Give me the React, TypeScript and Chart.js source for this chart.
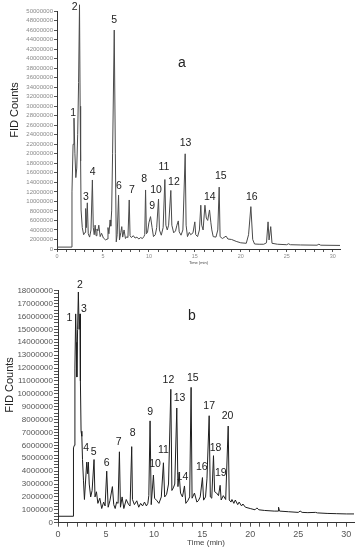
import React, { useEffect, useRef } from 'react';
import { Chart, registerables } from 'chart.js';

Chart.register(...registerables);

// ---------- Panel a ----------
const timesA = [
  0, 1.62, 1.63, 1.75, 1.85, 1.95, 2.05, 2.15, 2.25, 2.35, 2.45, 2.52, 2.57, 2.62, 2.75, 2.9,
  3.05, 3.12, 3.2, 3.3, 3.4, 3.55, 3.7, 3.85, 3.95, 4.05, 4.15, 4.25, 4.35, 4.45, 4.55, 4.7,
  4.85, 5.05, 5.3, 5.45, 5.55, 5.65, 5.78, 5.85, 5.95, 6.05, 6.23, 6.35, 6.45, 6.55, 6.7, 6.8,
  6.95, 7.05, 7.15, 7.3, 7.45, 7.6, 7.72, 7.86, 7.95, 8.1, 8.3, 8.5, 8.7, 8.9, 9.1, 9.3,
  9.45, 9.55, 9.64, 9.73, 9.85, 10.0, 10.18, 10.35, 10.5, 10.7, 10.85, 11.05, 11.15, 11.35, 11.55, 11.74,
  11.85, 12.0, 12.15, 12.39, 12.5, 12.7, 12.9, 13.05, 13.2, 13.3, 13.5, 13.7, 13.95, 14.05, 14.2, 14.4,
  14.55, 14.8, 15.0, 15.1, 15.3, 15.5, 15.65, 15.75, 15.9, 16.1, 16.25, 16.4, 16.6, 16.75, 16.85, 17.0,
  17.3, 17.5, 17.65, 17.75, 18.0, 18.4, 18.6, 19.0, 19.5, 20.0, 20.6, 20.85, 21.1, 21.3, 21.5, 22.0,
  22.5, 22.8, 22.97, 23.08, 23.26, 23.4, 24.0, 25.0, 25.2, 25.4, 26.5, 28.3, 28.5, 28.7, 30.8,
];
const countsA = [
  400000, 400000, 12000000, 22000000, 27500000, 20000000, 15000000, 17000000, 24000000, 35000000, 51300000, 30000000, 18500000, 8200000, 4500000, 3000000,
  3500000, 8500000, 4500000, 9700000, 3200000, 2500000, 4000000, 14500000, 4500000, 3000000, 5000000, 2800000, 4200000, 3800000, 5000000, 2600000,
  3300000, 2300000, 1900000, 2100000, 4500000, 3200000, 6100000, 4800000, 8000000, 20000000, 46000000, 20000000, 1500000, 3000000, 11300000, 1900000,
  3500000, 4700000, 2500000, 4000000, 2200000, 2600000, 2400000, 10300000, 2800000, 2400000, 2800000, 2300000, 2500000, 2100000, 2400000, 2200000,
  2600000, 3000000, 12400000, 3200000, 3500000, 5500000, 6800000, 4500000, 2600000, 3000000, 4500000, 10500000, 4000000, 2900000, 4500000, 14600000,
  5000000, 4000000, 5000000, 12300000, 5000000, 3400000, 3800000, 5000000, 5900000, 3600000, 2900000, 4000000, 20000000, 5000000, 2600000, 3500000,
  3000000, 3400000, 5700000, 3000000, 2600000, 4000000, 9200000, 5000000, 4000000, 9200000, 6500000, 6000000, 8200000, 5500000, 4000000, 2600000,
  2500000, 4000000, 13000000, 2600000, 2200000, 2700000, 2100000, 2000000, 1600000, 1300000, 1200000, 3000000, 8900000, 2000000, 1050000, 1000000,
  1000000, 1300000, 5700000, 1900000, 4700000, 1200000, 1000000, 900000, 1100000, 900000, 850000, 800000, 1000000, 800000, 750000,
];
const peakNamesA = ['1', '2', '3', '4', '5', '6', '7', '8', '9', '10', '11', '12', '13', '14', '15', '16'];
const peakLabelTimesA = [1.77, 1.92, 3.15, 3.88, 6.23, 6.74, 8.15, 9.49, 10.36, 10.78, 11.63, 12.72, 13.99, 16.63, 17.83, 21.2];
const peakLabelCountsA = [28600000, 50800000, 11000000, 16200000, 48000000, 13200000, 12300000, 14700000, 9000000, 12300000, 17300000, 14000000, 22200000, 10800000, 15300000, 10800000];
const yTicksA = [
  0, 2000000, 4000000, 6000000, 8000000, 10000000, 12000000, 14000000, 16000000, 18000000, 20000000, 22000000, 24000000,
  26000000, 28000000, 30000000, 32000000, 34000000, 36000000, 38000000, 40000000, 42000000, 44000000, 46000000, 48000000, 50000000,
];

// ---------- Panel b ----------
const timesB = [
  0, 1.6, 1.61, 1.7, 1.76, 1.84, 1.9, 1.96, 2.04, 2.12, 2.2, 2.29, 2.33, 2.4, 2.48, 2.55,
  2.65, 2.75, 2.85, 2.99, 3.08, 3.16, 3.25, 3.4, 3.55, 3.75, 3.85, 4.0, 4.15, 4.35, 4.55, 4.75,
  4.9, 5.07, 5.22, 5.4, 5.66, 5.8, 5.95, 6.1, 6.25, 6.39, 6.5, 6.67, 6.85, 7.1, 7.35, 7.5,
  7.67, 7.75, 7.95, 8.2, 8.4, 8.6, 8.8, 9.0, 9.2, 9.35, 9.45, 9.58, 9.7, 9.93, 10.05, 10.3,
  10.5, 10.75, 10.97, 11.1, 11.3, 11.5, 11.74, 11.85, 12.0, 12.15, 12.36, 12.48, 12.6, 12.75, 12.95, 13.16,
  13.3, 13.5, 13.7, 13.85, 13.95, 14.2, 14.45, 14.6, 14.8, 15.03, 15.15, 15.35, 15.5, 15.73, 15.85, 16.0,
  16.18, 16.3, 16.5, 16.7, 16.87, 16.98, 17.2, 17.45, 17.71, 17.82, 18.0, 18.1, 18.3, 18.45, 18.7, 18.85,
  19.1, 19.24, 19.5, 20.0, 20.5, 20.7, 20.9, 21.5, 22.5, 22.9, 22.95, 23.05, 24.0, 25.0, 25.2, 25.4,
  26.0, 26.8, 27.0, 28.0, 29.0, 30.0, 30.8,
];
const countsB = [
  500000, 500000, 5800000, 6000000, 12000000, 16200000, 14000000, 11300000, 15000000, 17900000, 15000000, 16200000, 11000000, 7100000, 6700000, 4900000,
  3300000, 1800000, 3000000, 4700000, 3800000, 4700000, 3000000, 2000000, 2500000, 4900000, 2000000, 2400000, 1500000, 1900000, 1100000, 1600000,
  1300000, 4000000, 1200000, 1700000, 2800000, 1400000, 1100000, 1600000, 1500000, 5500000, 1200000, 2000000, 1100000, 1800000, 1400000, 1300000,
  5900000, 1800000, 1400000, 1700000, 1200000, 1500000, 1300000, 1600000, 1300000, 1500000, 2100000, 7900000, 1400000, 3700000, 1900000, 1700000,
  1500000, 2000000, 4650000, 2000000, 2200000, 3000000, 10350000, 2500000, 2700000, 3000000, 8900000, 2800000, 3800000, 2300000, 2000000, 2850000,
  1500000, 1700000, 2000000, 10500000, 1900000, 2300000, 1600000, 1700000, 2000000, 3500000, 1750000, 2000000, 3400000, 8300000, 2000000, 1900000,
  5200000, 2400000, 2300000, 2100000, 2900000, 1760000, 2100000, 1800000, 7500000, 1760000, 1600000, 1800000, 1500000, 1760000, 1400000, 1600000,
  1300000, 1450000, 1200000, 1100000, 1000000, 1150000, 1000000, 950000, 900000, 900000, 1200000, 900000, 850000, 800000, 900000, 800000,
  780000, 800000, 760000, 720000, 700000, 680000, 680000,
];
const peakNamesB = ['1', '2', '3', '4', '5', '6', '7', '8', '9', '10', '11', '12', '13', '14', '15', '16', '17', '18', '19', '20'];
const peakLabelTimesB = [1.18, 2.29, 2.71, 2.92, 3.72, 5.07, 6.32, 7.78, 9.58, 10.1, 10.97, 11.49, 12.64, 12.95, 14.03, 14.97, 15.73, 16.39, 16.94, 17.64];
const peakLabelCountsB = [15900000, 18440000, 16560000, 5770000, 5500000, 4650000, 6240000, 6930000, 8600000, 4530000, 5640000, 11070000, 9650000, 3520000, 11200000, 4300000, 9050000, 5820000, 3830000, 8280000];
const yTicksB = [
  0, 1000000, 2000000, 3000000, 4000000, 5000000, 6000000, 7000000, 8000000, 9000000,
  10000000, 11000000, 12000000, 13000000, 14000000, 15000000, 16000000, 17000000, 18000000,
];

// ---------- shared ----------
const xTicks = [0, 5, 10, 15, 20, 25, 30];
const xTickLabels = ['0', '5', '10', '15', '20', '25', '30'];

const FONT = '"Liberation Sans", Arial, sans-serif';

type Panel = {
  times: number[];
  counts: number[];
  names: string[];
  lt: number[];
  lv: number[];
  yTicks: number[];
  yMinorStep: number;
  yMax: number;
  letter: string;
  letterX: number;
  letterY: number;
  titleX: number;
  titleY: number;
  padding: any;
  yWidth: number;
  xHeight: number;
  tickLen: number;
  yFont: number;
  xFont: number;
  xTitleFont: number;
  xTitlePad: number;
  xPad: number;
  lineColor: string;
  tickLabelColor: string;
};

const annot = (p: Panel) => ({
  id: 'annot',
  afterDatasetsDraw(chart: any) {
    const { ctx } = chart;
    const x = chart.scales.x;
    const y = chart.scales.y;
    ctx.save();
    ctx.fillStyle = '#222';
    ctx.textAlign = 'center';
    ctx.textBaseline = 'middle';
    ctx.font = `10.5px ${FONT}`;
    p.names.forEach((s, i) => {
      ctx.fillText(s, x.getPixelForValue(p.lt[i]), y.getPixelForValue(p.lv[i]));
    });
    ctx.font = `14px ${FONT}`;
    ctx.fillText(p.letter, p.letterX, p.letterY);
    ctx.font = `11px ${FONT}`;
    ctx.translate(p.titleX, p.titleY);
    ctx.rotate(-Math.PI / 2);
    ctx.fillText('FID Counts', 0, 0);
    ctx.restore();
  },
});

function buildConfig(p: Panel): any {
  return {
    type: 'line',
    data: {
      datasets: [
        {
          data: p.times.map((t, i) => ({ x: t, y: p.counts[i] })),
          borderColor: p.lineColor,
          borderWidth: 1,
          pointRadius: 0,
          tension: 0,
          fill: false,
          clip: false,
        },
      ],
    },
    options: {
      animation: false,
      responsive: false,
      events: [],
      layout: { padding: p.padding },
      plugins: { legend: { display: false }, tooltip: { enabled: false } },
      scales: {
        x: {
          type: 'linear',
          min: 0,
          max: 30.8,
          afterBuildTicks: (s: any) => {
            const t: any[] = [];
            for (let m = 0; m <= 30; m++) t.push({ value: m });
            s.ticks = t;
          },
          afterFit: (s: any) => {
            s.height = p.xHeight;
          },
          grid: { display: true, drawOnChartArea: false, drawTicks: true, tickLength: p.tickLen, color: '#555' },
          border: { display: true, color: '#333', width: 1 },
          ticks: {
            autoSkip: false,
            maxRotation: 0,
            minRotation: 0,
            padding: p.xPad,
            color: p.tickLabelColor,
            font: { size: p.xFont, family: FONT },
            callback: (v: number) => {
              const k = xTicks.indexOf(v);
              return k >= 0 ? xTickLabels[k] : '';
            },
          },
          title: {
            display: true,
            text: 'Time (min)',
            color: '#444',
            font: { size: p.xTitleFont, family: FONT },
            padding: { top: 0, bottom: p.xTitlePad },
          },
        },
        y: {
          type: 'linear',
          min: 0,
          max: p.yMax,
          afterBuildTicks: (s: any) => {
            if (p.yMinorStep > 0) {
              const t: any[] = [];
              for (let v = 0; v <= p.yMax + 1; v += p.yMinorStep) t.push({ value: v });
              s.ticks = t;
            } else {
              s.ticks = p.yTicks.map((v) => ({ value: v }));
            }
          },
          afterFit: (s: any) => {
            s.width = p.yWidth;
          },
          grid: { display: true, drawOnChartArea: false, drawTicks: true, tickLength: p.tickLen, color: '#555' },
          border: { display: true, color: '#333', width: 1 },
          ticks: {
            autoSkip: false,
            padding: 1,
            color: p.tickLabelColor,
            font: { size: p.yFont, family: FONT },
            callback: (v: number) => (p.yTicks.indexOf(v) >= 0 ? String(v) : ''),
          },
          title: { display: false },
        },
      },
    },
    plugins: [annot(p)],
  };
}

const panelA: Panel = {
  times: timesA,
  counts: countsA,
  names: peakNamesA,
  lt: peakLabelTimesA,
  lv: peakLabelCountsA,
  yTicks: yTicksA,
  yMinorStep: 0,
  yMax: 50000000,
  letter: 'a',
  letterX: 182,
  letterY: 63,
  titleX: 14.5,
  titleY: 110,
  padding: { top: 11, right: 19, left: 0, bottom: 0 },
  yWidth: 57,
  xHeight: 21,
  tickLen: 3,
  yFont: 6,
  xFont: 5.4,
  xTitleFont: 4,
  xTitlePad: 5,
  xPad: 1,
  lineColor: '#4a4a4a',
  tickLabelColor: '#8a8a8a',
};

const panelB: Panel = {
  times: timesB,
  counts: countsB,
  names: peakNamesB,
  lt: peakLabelTimesB,
  lv: peakLabelCountsB,
  yTicks: yTicksB,
  yMinorStep: 250000,
  yMax: 18000000,
  letter: 'b',
  letterX: 192,
  letterY: 46,
  titleX: 10,
  titleY: 115,
  padding: { top: 20.7, right: 5, left: 0, bottom: 0 },
  yWidth: 58,
  xHeight: 27.3,
  tickLen: 4,
  yFont: 8,
  xFont: 9,
  xTitleFont: 8,
  xTitlePad: 2,
  xPad: 2,
  lineColor: '#1e1e1e',
  tickLabelColor: '#555',
};

export default function App() {
  const refA = useRef<HTMLCanvasElement>(null);
  const refB = useRef<HTMLCanvasElement>(null);
  useEffect(() => {
    const a = new Chart(refA.current as HTMLCanvasElement, buildConfig(panelA));
    const b = new Chart(refB.current as HTMLCanvasElement, buildConfig(panelB));
    return () => {
      a.destroy();
      b.destroy();
    };
  }, []);
  return (
    <div style={{ position: 'absolute', left: 0, top: 0, width: 359, height: 550, background: '#fff' }}>
      <canvas ref={refA} width={359} height={270} style={{ position: 'absolute', left: 0, top: 0 }} />
      <canvas ref={refB} width={359} height={280} style={{ position: 'absolute', left: 0, top: 270 }} />
    </div>
  );
}
